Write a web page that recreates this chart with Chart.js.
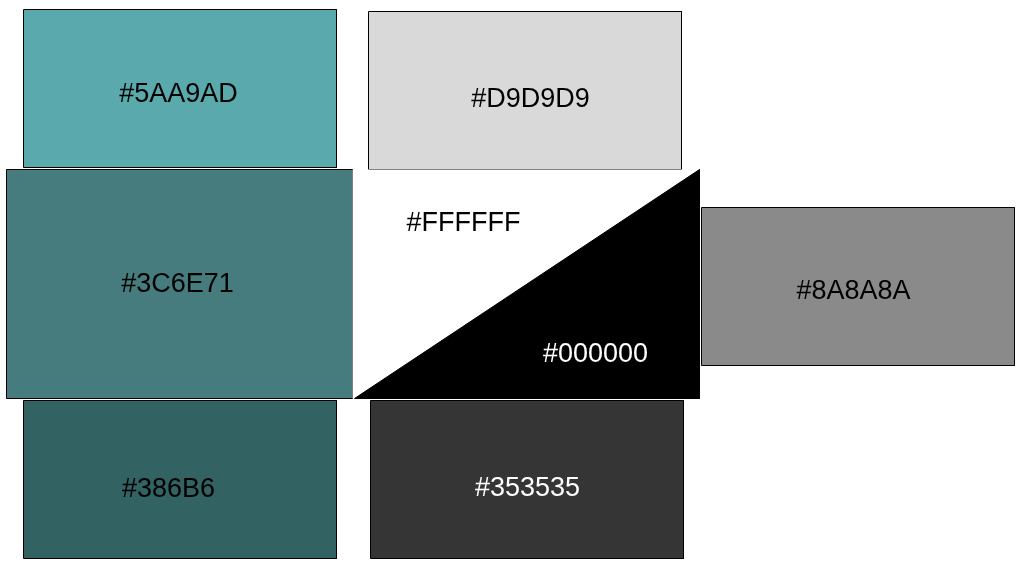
<!DOCTYPE html>
<html>
<head>
<meta charset="utf-8">
<script src="https://cdn.jsdelivr.net/npm/chart.js@4.4.0/dist/chart.umd.min.js"></script>
<style>
  html, body { margin: 0; padding: 0; background: #fff; }
  #swatches { display: block; }
</style>
</head>
<body>
<canvas id="swatches" width="1025" height="570"></canvas>
<script>
// swatch boxes (plain rectangles)
const boxNames = ['#5AA9AD', '#D9D9D9', '#3C6E71', '#8A8A8A', '#386B6', '#353535'];
const boxColors = ['#5aa9ad', '#d9d9d9', '#467c7e', '#8a8a8a', '#336262', '#353535'];
const boxLeft = [23, 368, 6, 701, 23, 370];
const boxRight = [336, 681, 352, 1014, 336, 683];
const boxTop = [9, 11, 169, 207, 400, 400];
const boxBottom = [167, 169, 398, 365, 558, 558];

// the split square: white upper half, black lower half
const splitX = [352, 699];
const splitY = [169, 398];

// text labels
const labelText = ['#5AA9AD', '#D9D9D9', '#3C6E71', '#FFFFFF', '#000000', '#8A8A8A', '#386B6', '#353535'];
const labelX = [178, 530, 177, 463, 595, 853, 168, 527];
const labelY = [94, 99, 284, 223, 354, 291, 489, 488];
const labelColor = ['#000', '#000', '#000', '#000', '#fff', '#000', '#000', '#fff'];

function rectPoints(x0, x1, y0, y1) {
    return [{x: x0, y: y0}, {x: x1, y: y0}, {x: x1, y: y1}, {x: x0, y: y1}, {x: x0, y: y0}];
}

const datasets = boxNames.map((name, i) => ({
    label: name,
    data: rectPoints(boxLeft[i], boxRight[i], boxTop[i], boxBottom[i]),
    backgroundColor: boxColors[i],
    borderColor: '#000',
    borderWidth: 1,
    fill: 'shape',
    showLine: true,
    pointRadius: 0,
    tension: 0,
    order: i === 2 ? 0 : 1
}));

// white square, then the black lower-right triangle over it
datasets.push({
    label: '#FFFFFF',
    data: rectPoints(splitX[0], splitX[1], splitY[0], splitY[1]),
    backgroundColor: '#ffffff',
    borderWidth: 0,
    fill: 'shape',
    showLine: true,
    pointRadius: 0,
    order: -1
});
datasets.push({
    label: '#000000',
    data: [
        {x: splitX[0] + 2, y: splitY[1]},
        {x: splitX[1], y: splitY[0]},
        {x: splitX[1], y: splitY[1]},
        {x: splitX[0] + 2, y: splitY[1]}
    ],
    backgroundColor: '#000000',
    borderColor: '#000000',
    borderWidth: 1,
    fill: 'shape',
    showLine: true,
    pointRadius: 0,
    order: -2
});

// draws the hex names on top
const labelPlugin = {
    id: 'hexLabels',
    afterDatasetsDraw(chart) {
        const ctx = chart.ctx;
        const xs = chart.scales.x;
        const ys = chart.scales.y;
        ctx.save();
        ctx.font = '27px "Liberation Sans", Arial, sans-serif';
        ctx.textAlign = 'center';
        ctx.textBaseline = 'middle';
        labelText.forEach((t, i) => {
            ctx.fillStyle = labelColor[i];
            ctx.fillText(t, xs.getPixelForValue(labelX[i]), ys.getPixelForValue(labelY[i]));
        });
        ctx.restore();
    }
};

new Chart(document.getElementById('swatches'), {
    type: 'scatter',
    data: { datasets: datasets },
    options: {
        responsive: false,
        animation: false,
        devicePixelRatio: 1,
        layout: { padding: 0 },
        scales: {
            // half-pixel offset keeps the 1px outlines crisp
            x: { type: 'linear', min: -0.5, max: 1024.5, display: false },
            y: { type: 'linear', min: -0.5, max: 569.5, reverse: true, display: false }
        },
        plugins: {
            legend: { display: false },
            tooltip: { enabled: false }
        }
    },
    plugins: [labelPlugin]
});
</script>
</body>
</html>
